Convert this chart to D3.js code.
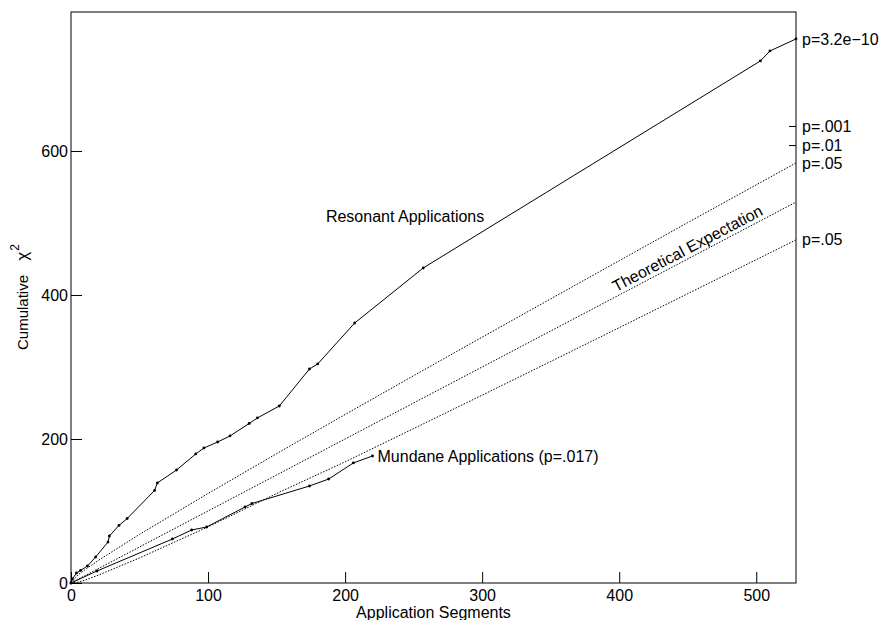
<!DOCTYPE html>
<html>
<head>
<meta charset="utf-8">
<script src="https://cdn.jsdelivr.net/npm/d3@7"></script>
<style>
  body { margin: 0; background: #fff; }
  text { font-family: "Liberation Sans", Arial, Helvetica, sans-serif; fill: #000; }
</style>
</head>
<body>
<div id="chart"></div>
<script>
// cumulative chi-square vs number of segments
const resonantX = [0, 1, 4, 7, 12, 18, 27, 28, 35, 41, 61, 63, 77, 91, 97, 107, 116, 130, 136, 152, 174, 180, 207, 257, 503, 510, 529];
const resonantY = [0, 5.6, 13.9, 17.4, 23.6, 36.1, 56.9, 65.3, 79.9, 89.6, 128.5, 138.9, 156.9, 179.2, 187.5, 195.8, 204.2, 221.5, 229.2, 245.8, 297.2, 304.2, 361.1, 437.5, 725, 738.9, 755.6];

const mundaneX = [0, 19, 74, 88, 99, 127, 132, 174, 188, 206, 220];
const mundaneY = [0, 16.7, 61.1, 73.6, 77.8, 105.6, 110.4, 134.7, 144.4, 166.7, 176.4];

// theoretical expectation and the p=.05 envelope
const expectX = [0, 529];
const expectY = [0, 529];
const bandX = [0, 5, 10, 20, 50, 100, 150, 200, 250, 300, 350, 400, 450, 529];
const upper05 = [0, 11.1, 18.3, 31.4, 67.5, 124.3, 179.6, 234.0, 287.9, 341.4, 394.6, 447.6, 500.5, 583.4];
const lower05 = [0, 1.1, 3.9, 10.9, 34.8, 77.9, 124.3, 168.3, 214.4, 260.9, 307.6, 354.6, 401.8, 476.5];

// labels on the right edge
const pLabels = ["p=3.2e\u221210", "p=.001", "p=.01", "p=.05", "p=.05"];
const pValues = [755.6, 634, 607.5, 583.4, 476.5];
const pTicked = [false, true, true, false, false];

const xTicks = [0, 100, 200, 300, 400, 500];
const yTicks = [0, 200, 400, 600];

const w = 881, h = 620;
const margin = {top: 12, right: 85, bottom: 37, left: 71};

const xScale = d3.scaleLinear()
    .domain([0, 529])
    .range([margin.left, w - margin.right]);
const yScale = d3.scaleLinear()
    .domain([0, 793])
    .range([h - margin.bottom, margin.top]);

const svg = d3.select("#chart").append("svg")
    .attr("width", w)
    .attr("height", h);

const line = d3.line()
    .x(d => xScale(d[0]))
    .y(d => yScale(d[1]));

const zip = (a, b) => a.map((v, i) => [v, b[i]]);

// dotted reference curves
[zip(bandX, upper05), zip(expectX, expectY), zip(bandX, lower05)].forEach(pts => {
    svg.append("path")
        .attr("d", line(pts))
        .attr("fill", "none")
        .attr("stroke", "#000")
        .attr("stroke-width", 1)
        .attr("stroke-dasharray", "1.5,1.5");
});

// observed series
[zip(resonantX, resonantY), zip(mundaneX, mundaneY)].forEach(pts => {
    svg.append("path")
        .attr("d", line(pts))
        .attr("fill", "none")
        .attr("stroke", "#000")
        .attr("stroke-width", 1);
    svg.append("g").selectAll("circle")
        .data(pts)
        .enter()
        .append("circle")
        .attr("cx", d => xScale(d[0]))
        .attr("cy", d => yScale(d[1]))
        .attr("r", 1.4)
        .attr("fill", "#000");
});

// frame
svg.append("rect")
    .attr("x", margin.left)
    .attr("y", margin.top)
    .attr("width", w - margin.left - margin.right)
    .attr("height", h - margin.top - margin.bottom)
    .attr("fill", "none")
    .attr("stroke", "#000")
    .attr("stroke-width", 1);

const xAxis = d3.axisBottom(xScale).tickValues(xTicks).tickSizeInner(-11).tickSizeOuter(0).tickPadding(7);
const yAxis = d3.axisLeft(yScale).tickValues(yTicks).tickSizeInner(-11).tickSizeOuter(0).tickPadding(3);

svg.append("g")
    .attr("id", "x-axis")
    .attr("transform", `translate(0, ${h - margin.bottom})`)
    .call(xAxis)
    .call(g => g.select(".domain").remove());

svg.append("g")
    .attr("id", "y-axis")
    .attr("transform", `translate(${margin.left}, 0)`)
    .call(yAxis)
    .call(g => g.select(".domain").remove());

svg.selectAll(".tick text")
    .attr("font-size", 16)
    .attr("font-family", "Liberation Sans, Arial, sans-serif")
    .attr("fill", "#000");
svg.selectAll(".tick line").attr("stroke", "#000");

// axis titles
svg.append("text")
    .attr("x", (margin.left + w - margin.right) / 2)
    .attr("y", 618)
    .attr("text-anchor", "middle")
    .attr("font-size", 16)
    .text("Application Segments");

const yl = svg.append("text")
    .attr("transform", "translate(28, 350) rotate(-90)")
    .attr("font-size", 15);
yl.append("tspan").text("Cumulative ");
yl.append("tspan").attr("dx", 10).attr("font-size", 17).text("\u03c7");
yl.append("tspan").attr("dx", 1).attr("dy", -9).attr("font-size", 12).text("2");

// right-hand p labels
const right = xScale(529);
pValues.forEach((v, i) => {
    if (pTicked[i]) {
        svg.append("line")
            .attr("x1", right - 7).attr("x2", right)
            .attr("y1", yScale(v)).attr("y2", yScale(v))
            .attr("stroke", "#000");
    }
    svg.append("text")
        .attr("x", right + 6)
        .attr("y", yScale(v))
        .attr("dy", "0.35em")
        .attr("font-size", 16)
        .text(pLabels[i]);
});

// series labels
svg.append("text")
    .attr("x", xScale(186))
    .attr("y", yScale(502))
    .attr("font-size", 16)
    .text("Resonant Applications");

svg.append("text")
    .attr("x", xScale(mundaneX[mundaneX.length - 1]) + 5)
    .attr("y", yScale(mundaneY[mundaneY.length - 1]))
    .attr("dy", "0.35em")
    .attr("font-size", 16)
    .text("Mundane Applications (p=.017)");

const angle = Math.atan2(yScale(529) - yScale(0), xScale(529) - xScale(0)) * 180 / Math.PI;
svg.append("text")
    .attr("transform", `translate(${xScale(399)}, ${yScale(399)}) rotate(${angle})`)
    .attr("dy", -4)
    .attr("font-size", 16)
    .text("Theoretical Expectation");
</script>
</body>
</html>
